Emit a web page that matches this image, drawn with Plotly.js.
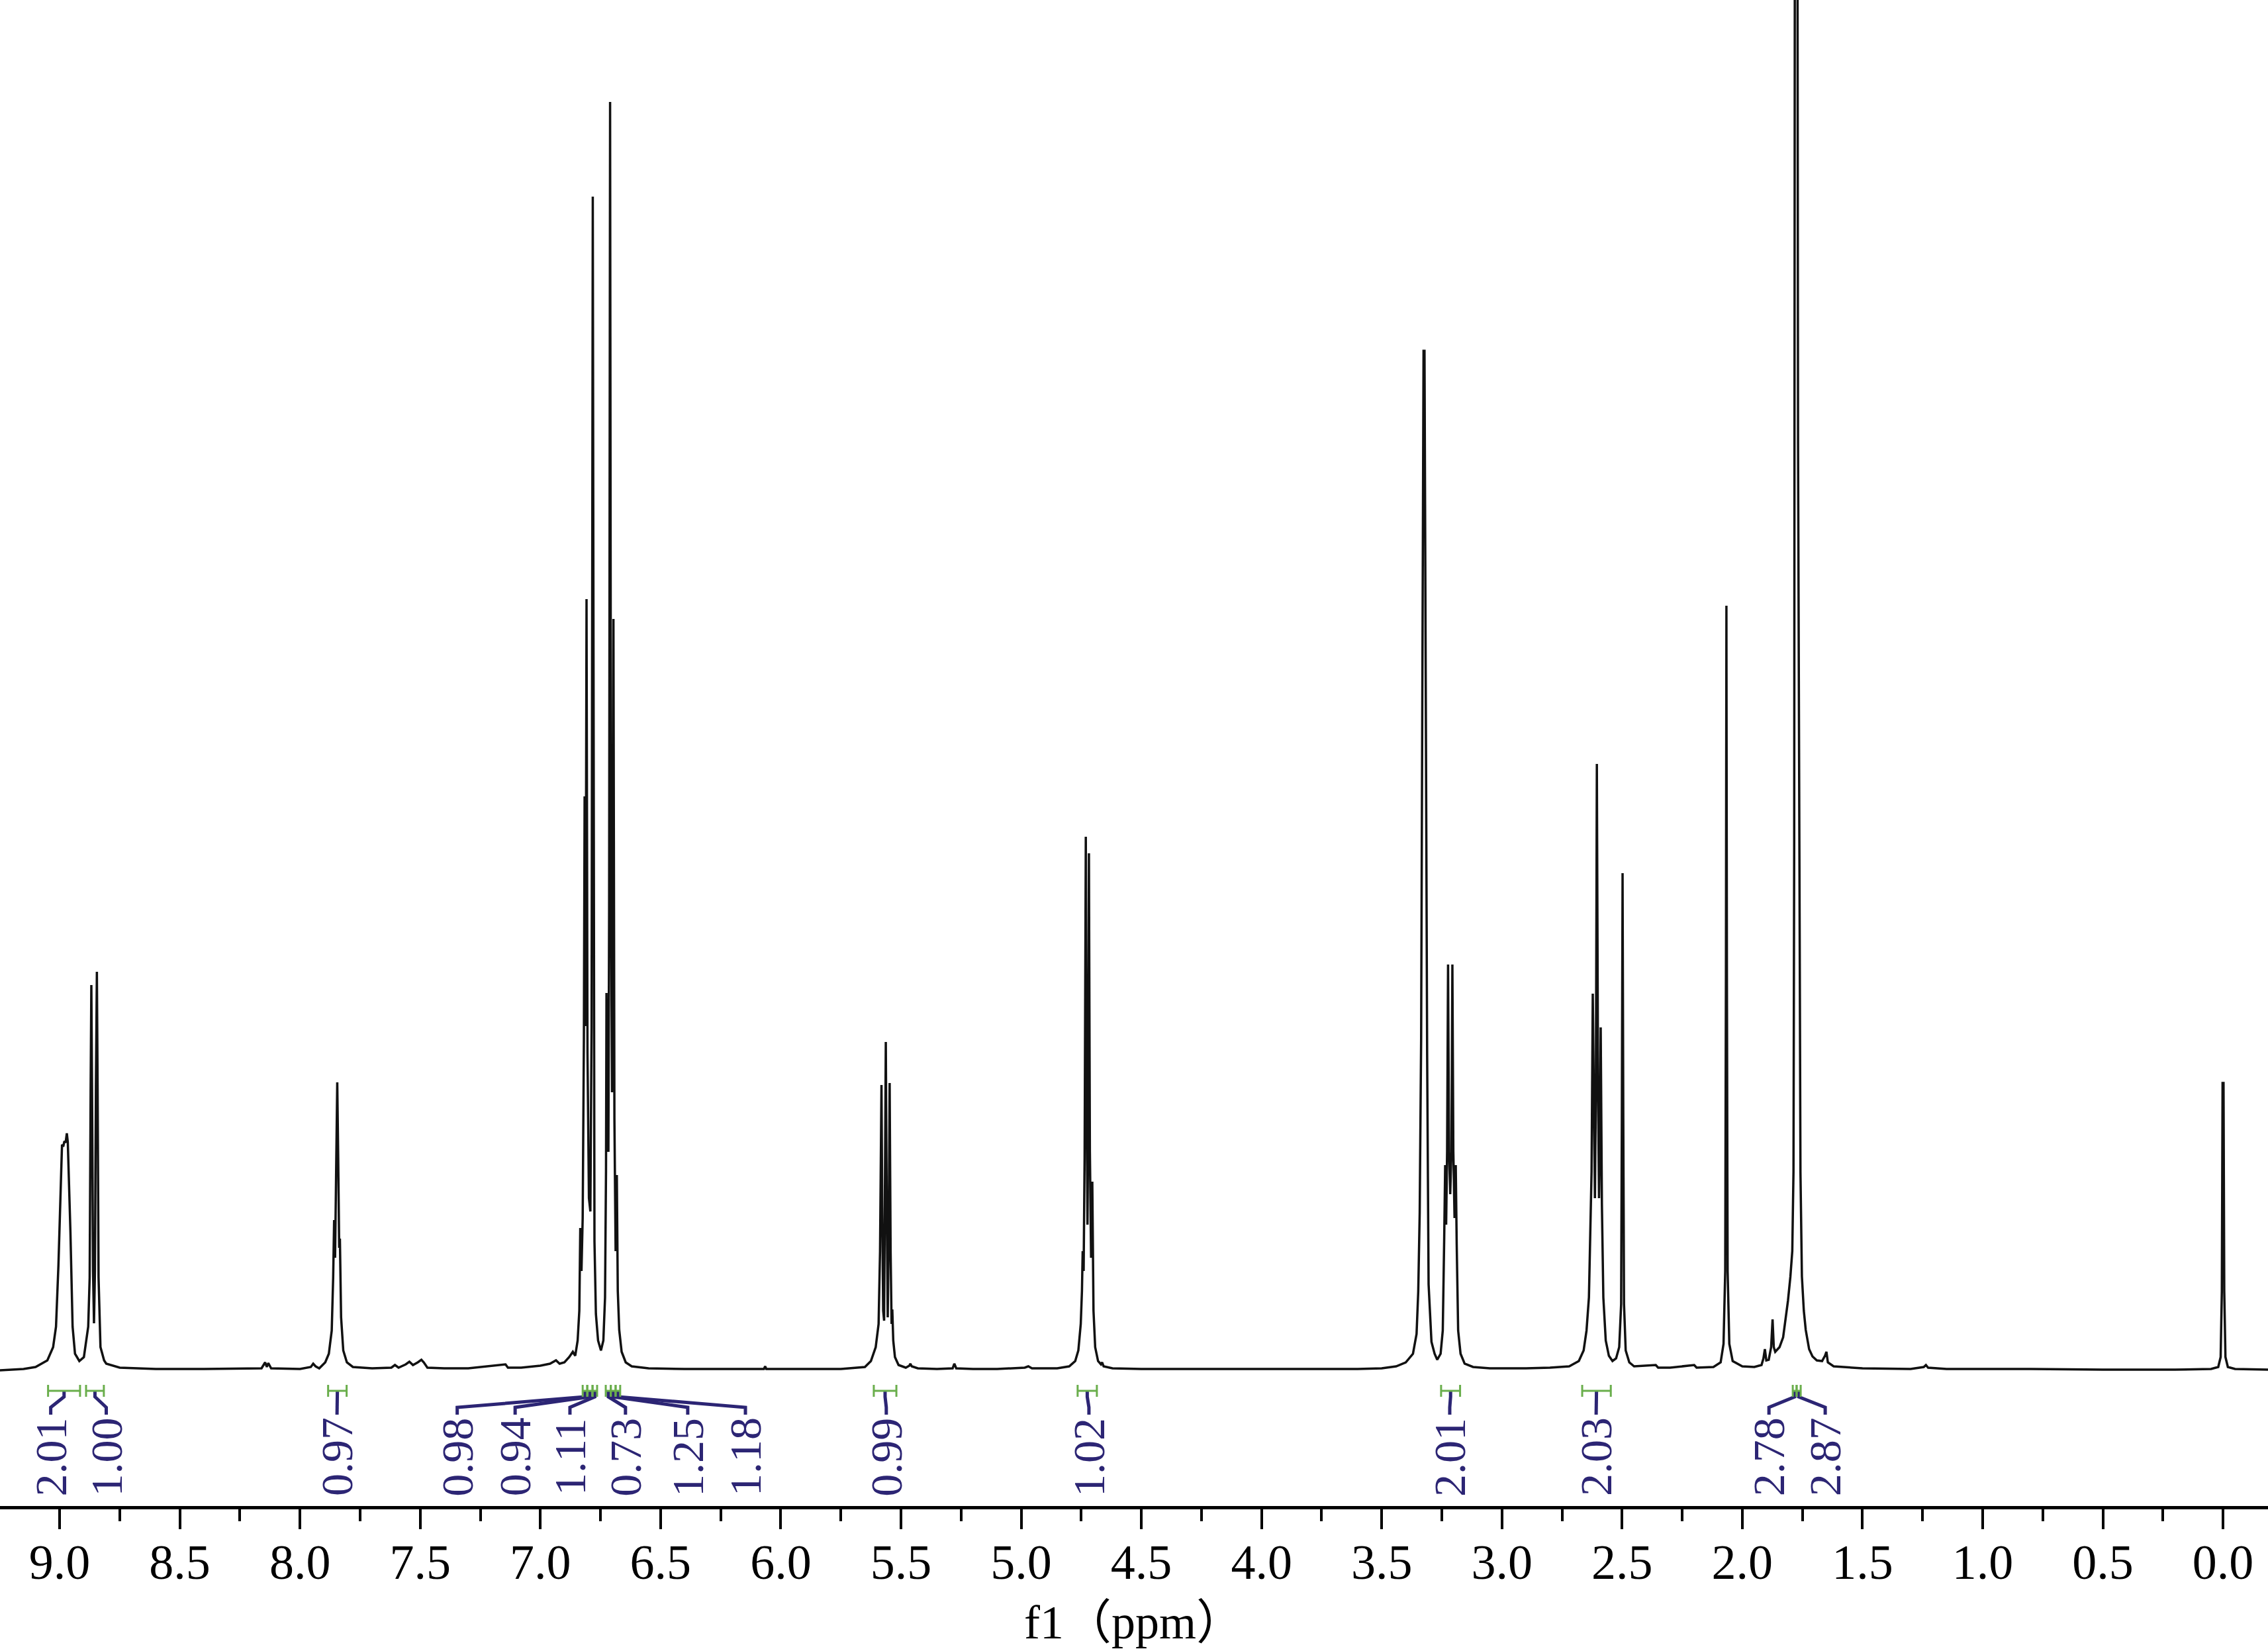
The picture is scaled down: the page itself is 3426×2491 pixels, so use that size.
<!DOCTYPE html>
<html>
<head>
<meta charset="utf-8">
<script src="https://cdn.plot.ly/plotly-3.0.1.min.js"></script>
<style>
  html, body { margin: 0; padding: 0; background: #ffffff; }
  #chart { width: 3426px; height: 2491px; }
</style>
</head>
<body>
<div id="chart"></div>
<script>
// ---------------- DATA ----------------
// Chemical shift (ppm) and intensity (arbitrary units) of the 1H NMR trace
const specPpm = [
  9.25, 9.20, 9.15, 9.10, 9.051, 9.027, 9.015, 9.005, 8.996, 8.990, 8.985, 8.980, 8.975, 8.970, 8.966, 8.962,
  8.955, 8.946, 8.936, 8.918, 8.899, 8.881, 8.875, 8.871, 8.868, 8.865, 8.861, 8.857, 8.853, 8.849, 8.845, 8.842,
  8.838, 8.830, 8.815, 8.806, 8.75, 8.60, 8.40, 8.16, 8.145, 8.138, 8.132, 8.12, 8.00, 7.955, 7.945, 7.935,
  7.92, 7.895, 7.88, 7.868, 7.862, 7.858, 7.854, 7.849, 7.845, 7.841, 7.837, 7.834, 7.829, 7.82, 7.805, 7.78,
  7.70, 7.62, 7.605, 7.59, 7.56, 7.545, 7.53, 7.51, 7.495, 7.485, 7.47, 7.40, 7.30, 7.145, 7.135, 7.08,
  7.00, 6.96, 6.935, 6.92, 6.90, 6.88, 6.865, 6.855, 6.845, 6.838, 6.834, 6.829, 6.824, 6.819, 6.816, 6.812,
  6.808, 6.804, 6.798, 6.792, 6.787, 6.782, 6.778, 6.775, 6.769, 6.760, 6.748, 6.738, 6.731, 6.727, 6.725, 6.721,
  6.717, 6.714, 6.710, 6.706, 6.702, 6.699, 6.696, 6.692, 6.687, 6.682, 6.678, 6.672, 6.662, 6.645, 6.62, 6.55,
  6.40, 6.20, 6.07, 6.065, 6.06, 5.90, 5.75, 5.65, 5.625, 5.605, 5.593, 5.587, 5.584, 5.581, 5.578, 5.574,
  5.570, 5.567, 5.563, 5.559, 5.555, 5.551, 5.547, 5.543, 5.539, 5.536, 5.532, 5.525, 5.51, 5.48, 5.465, 5.461,
  5.455, 5.43, 5.35, 5.285, 5.278, 5.27, 5.20, 5.10, 4.985, 4.97, 4.955, 4.85, 4.80, 4.775, 4.762, 4.752,
  4.747, 4.744, 4.740, 4.736, 4.731, 4.727, 4.724, 4.721, 4.718, 4.714, 4.709, 4.704, 4.699, 4.692, 4.680, 4.668,
  4.663, 4.657, 4.62, 4.50, 4.20, 3.90, 3.60, 3.50, 3.44, 3.40, 3.37, 3.355, 3.348, 3.342, 3.336, 3.334,
  3.330, 3.326, 3.322, 3.318, 3.314, 3.311, 3.305, 3.293, 3.280, 3.269, 3.255, 3.246, 3.240, 3.236, 3.232, 3.228,
  3.224, 3.220, 3.215, 3.210, 3.206, 3.202, 3.197, 3.192, 3.188, 3.182, 3.172, 3.155, 3.12, 3.05, 2.90, 2.80,
  2.72, 2.68, 2.66, 2.648, 2.638, 2.632, 2.627, 2.622, 2.617, 2.613, 2.609, 2.605, 2.600, 2.596, 2.593, 2.589,
  2.584, 2.578, 2.568, 2.555, 2.54, 2.525, 2.512, 2.504, 2.501, 2.498, 2.495, 2.492, 2.485, 2.47, 2.45, 2.36,
  2.35, 2.30, 2.20, 2.19, 2.12, 2.09, 2.078, 2.071, 2.068, 2.066, 2.064, 2.061, 2.054, 2.040, 2.00, 1.95,
  1.92, 1.912, 1.906, 1.900, 1.890, 1.880, 1.874, 1.869, 1.863, 1.845, 1.830, 1.820, 1.810, 1.800, 1.792, 1.787,
  1.784, 1.781, 1.776, 1.771, 1.768, 1.765, 1.762, 1.758, 1.752, 1.744, 1.736, 1.722, 1.708, 1.690, 1.668, 1.656,
  1.650, 1.644, 1.62, 1.50, 1.30, 1.245, 1.236, 1.227, 1.15, 1.00, 0.80, 0.50, 0.20, 0.05, 0.02, 0.010,
  0.005, 0.002, -0.002, -0.005, -0.010, -0.02, -0.05, -0.19
];
const specInt = [
  0, 1, 2, 5, 15, 35, 66, 158, 285, 341, 338, 346, 344, 358, 345, 300,
  209, 66, 25, 14, 20, 66, 140, 420, 582, 420, 150, 71, 150, 430, 602, 430,
  140, 35, 15, 10, 4, 2, 2, 3, 12, 5, 11, 3, 2, 5, 10, 6,
  3, 12, 25, 60, 140, 227, 170, 320, 435, 320, 185, 199, 80, 30, 12, 5,
  3, 4, 8, 4, 9, 13, 8, 12, 16, 12, 4, 3, 3, 9, 4, 4,
  7, 10, 15, 10, 12, 20, 28, 22, 45, 90, 215, 150, 230, 500, 867, 520,
  1165, 480, 260, 240, 520, 1773, 520, 195, 85, 45, 30, 45, 110, 300, 570, 360,
  330, 700, 1916, 700, 420, 620, 1135, 380, 180, 295, 120, 61, 28, 12, 6, 3,
  2, 2, 2, 6, 2, 2, 2, 5, 14, 35, 70, 180, 330, 431, 250, 90,
  75, 230, 496, 240, 80, 200, 434, 180, 70, 92, 45, 20, 8, 4, 7, 10,
  6, 3, 2, 3, 10, 3, 2, 2, 4, 6, 3, 3, 6, 14, 30, 70,
  120, 180, 150, 320, 806, 380, 220, 380, 781, 330, 170, 285, 90, 35, 14, 9,
  12, 6, 3, 2, 2, 2, 2, 3, 6, 12, 25, 55, 119, 238, 500, 716,
  1300, 1540, 1540, 1100, 620, 477, 130, 43, 25, 16, 25, 60, 200, 310, 220, 330,
  613, 330, 266, 330, 613, 330, 230, 310, 190, 60, 25, 10, 5, 3, 3, 4,
  6, 14, 30, 60, 110, 200, 300, 569, 340, 260, 420, 916, 420, 260, 330, 518,
  250, 110, 45, 22, 14, 18, 35, 100, 380, 751, 380, 100, 30, 12, 6, 8,
  4, 4, 8, 4, 5, 12, 40, 150, 600, 1155, 600, 150, 40, 14, 6, 5,
  8, 18, 32, 15, 16, 35, 77, 35, 28, 35, 50, 75, 105, 141, 180, 300,
  800, 2400, 2400, 2400, 1400, 1019, 600, 300, 142, 90, 61, 32, 21, 15, 14, 22,
  28, 12, 6, 3, 2, 5, 8, 4, 2, 2, 2, 1, 1, 2, 5, 20,
  120, 434, 434, 120, 20, 5, 2, 1
];

// Integration regions (ppm) and integral values
const intStart  = [9.048, 8.890, 7.883, 6.824, 6.805, 6.783, 6.728, 6.707, 6.687, 5.613, 4.765, 3.253, 2.666, 1.790, 1.774];
const intEnd    = [8.915, 8.816, 7.806, 6.805, 6.783, 6.764, 6.707, 6.687, 6.668, 5.519, 4.685, 3.174, 2.547, 1.774, 1.757];
const intValues = ['2.01', '1.00', '0.97', '0.98', '0.94', '1.11', '0.73', '1.25', '1.18', '0.99', '1.02', '2.01', '2.03', '2.78', '2.87'];

// Axis tick labels
const tickValues = [9.0, 8.5, 8.0, 7.5, 7.0, 6.5, 6.0, 5.5, 5.0, 4.5, 4.0, 3.5, 3.0, 2.5, 2.0, 1.5, 1.0, 0.5, 0.0];
const tickLabels = ['9.0', '8.5', '8.0', '7.5', '7.0', '6.5', '6.0', '5.5', '5.0', '4.5', '4.0', '3.5', '3.0', '2.5', '2.0', '1.5', '1.0', '0.5', '0.0'];

// ---------------- LAYOUT / STYLE ----------------
// where each integral label is printed along the shift axis (ppm)
const labelAt = [9.037, 8.806, 7.846, 7.346, 7.105, 6.877, 6.646, 6.387, 6.147, 5.561, 4.718, 3.217, 2.608, 1.889, 1.655];
const purple = '#2c2574';
const green = '#6aae4c';
const yGreen = -31, yTick1 = -22, yTick2 = -40;   // integral bar levels (intensity units)
const yBend = -56, yLabelTop = -67, yLabelMid = -131;

const spectrum = {
  x: specPpm, y: specInt, type: 'scatter', mode: 'lines',
  line: { color: '#111111', width: 3.5 }, hoverinfo: 'skip'
};

const gx = [], gy = [], px = [], py = [];
for (let i = 0; i < intStart.length; i++) {
  const s = intStart[i], e = intEnd[i], c = (s + e) / 2;
  gx.push(s, s, null, s, e, null, e, e, null);
  gy.push(yTick1, yTick2, null, yGreen, yGreen, null, yTick1, yTick2, null);
  px.push(c, c, labelAt[i], labelAt[i], null);
  py.push(yGreen, yTick2, yBend, yLabelTop, null);
}
const connectors = {
  x: px, y: py, type: 'scatter', mode: 'lines',
  line: { color: purple, width: 5 }, hoverinfo: 'skip'
};
const bars = {
  x: gx, y: gy, type: 'scatter', mode: 'lines',
  line: { color: green, width: 3 }, hoverinfo: 'skip'
};

const annotations = intValues.map((v, i) => ({
  x: labelAt[i], y: yLabelMid, xref: 'x', yref: 'y',
  text: v, textangle: -90, showarrow: false,
  xanchor: 'center', yanchor: 'middle',
  font: { family: 'Liberation Serif, serif', size: 68, color: purple }
}));

const layout = {
  width: 3426, height: 2491,
  margin: { l: 0, r: 0, t: 0, b: 216, pad: 0 },
  paper_bgcolor: '#ffffff', plot_bgcolor: '#ffffff',
  showlegend: false,
  xaxis: {
    range: [9.248, -0.187],
    showline: true, linewidth: 5, linecolor: '#000000',
    showgrid: false, zeroline: false,
    ticks: 'outside', ticklen: 30, tickwidth: 4, tickcolor: '#000000',
    tickvals: tickValues, ticktext: tickLabels,
    ticklabelstandoff: -14,
    tickfont: { family: 'Liberation Serif, serif', size: 74, color: '#000000' },
    minor: { ticks: 'outside', ticklen: 18, tickwidth: 4, tickcolor: '#000000', dtick: 0.25, tick0: 0, showgrid: false },
    title: { text: 'f1（ppm）', standoff: 40,
             font: { family: 'Liberation Serif, Noto Sans CJK SC, serif', size: 72, color: '#000000' } }
  },
  yaxis: { range: [-205, 2070], visible: false, showgrid: false, zeroline: false },
  annotations: annotations
};

Plotly.newPlot('chart', [connectors, bars, spectrum], layout, { displayModeBar: false, staticPlot: true });
</script>
</body>
</html>
